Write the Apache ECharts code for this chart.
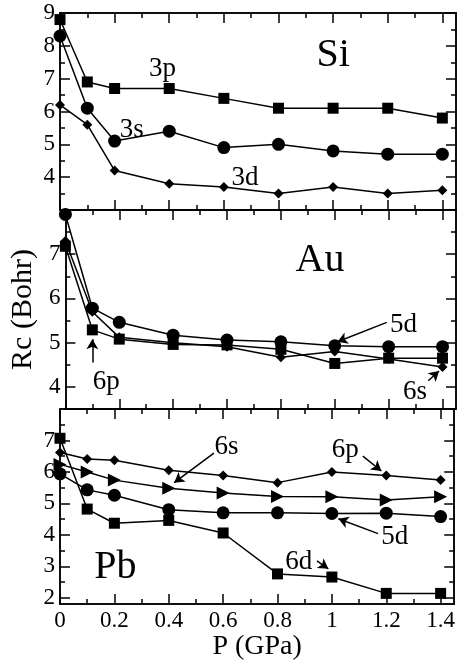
<!DOCTYPE html>
<html>
<head>
<meta charset="utf-8">
<script src="https://cdn.jsdelivr.net/npm/echarts@6/dist/echarts.min.js"></script>
<style>
  html, body { margin: 0; padding: 0; background: #fff; }
  #chart { width: 458px; height: 662px; }
</style>
</head>
<body>
<div id="chart"></div>
<script>
// pressure points (GPa)
const pressure = [0, 0.1, 0.2, 0.4, 0.6, 0.8, 1.0, 1.2, 1.4]

// Si
const si3p = [8.8, 6.9, 6.7, 6.7, 6.4, 6.1, 6.1, 6.1, 5.8]
const si3s = [8.3, 6.1, 5.1, 5.4, 4.9, 5.0, 4.8, 4.7, 4.7]
const si3d = [6.2, 5.6, 4.2, 3.8, 3.7, 3.5, 3.7, 3.5, 3.6]

// Au
const au5d = [7.9, 5.78, 5.46, 5.17, 5.06, 5.02, 4.93, 4.91, 4.91]
const au6p = [7.18, 5.29, 5.08, 4.96, 4.95, 4.85, 4.53, 4.65, 4.65]
const au6s = [7.3, 5.7, 5.12, 5.0, 4.91, 4.67, 4.8, 4.63, 4.45]

// Pb
const pb6p = [6.62, 6.41, 6.37, 6.05, 5.89, 5.66, 6.0, 5.89, 5.74]
const pb6s = [6.24, 6.0, 5.74, 5.48, 5.33, 5.22, 5.21, 5.11, 5.21]
const pb5d = [5.94, 5.43, 5.26, 4.8, 4.7, 4.7, 4.68, 4.69, 4.58]
const pb6d = [7.07, 4.82, 4.37, 4.46, 4.06, 2.76, 2.66, 2.14, 2.14]

// ticks
const xMajor = [0, 0.2, 0.4, 0.6, 0.8, 1, 1.2, 1.4]
const xMinor = [0.1, 0.3, 0.5, 0.7, 0.9, 1.1, 1.3]
const siTicks = [4, 5, 6, 7, 8, 9]
const siMinor = [3.5, 4.5, 5.5, 6.5, 7.5, 8.5]
const auTicks = [4, 5, 6, 7]
const auMinor = [4.5, 5.5, 6.5, 7.5]
const pbTicks = [2, 3, 4, 5, 6, 7]
const pbMinor = [2.5, 3.5, 4.5, 5.5, 6.5, 7.5]

const FONT = 'Liberation Serif'
const black = '#000'

const panels = [
  { top: 13, height: 197, min: 3, max: 9, major: siTicks, minor: siMinor },
  { top: 210, height: 199, min: 3.5, max: 8, major: auTicks, minor: auMinor, yName: 'Rc (Bohr)' },
  { top: 409, height: 196, min: 1.8, max: 8, major: pbTicks, minor: pbMinor, xName: 'P (GPa)' }
]

const grid = []
const xAxis = []
const yAxis = []

function axisBase(gi, len, ticks, position, labels, extra) {
  return Object.assign({
    gridIndex: gi,
    type: 'value',
    position: position,
    axisLine: { show: true, onZero: false, lineStyle: { color: black, width: 1.5 } },
    axisTick: { show: true, inside: true, length: len, customValues: ticks, lineStyle: { color: black, width: 1.5 } },
    axisLabel: labels
      ? { show: true, customValues: labels, color: black, fontFamily: FONT, fontSize: 23, margin: 5 }
      : { show: false },
    splitLine: { show: false }
  }, extra)
}

panels.forEach((p, gi) => {
  grid.push({ left: 60, top: p.top, width: 396, height: p.height })
  const xr = { min: 0, max: 1.45 }
  const xName = p.xName ? {
    name: p.xName, nameLocation: 'middle', nameGap: 25,
    nameTextStyle: { color: black, fontFamily: FONT, fontSize: 28 }
  } : {}
  xAxis.push(axisBase(gi, 10, xMajor, 'bottom', gi === 2 ? xMajor : null, Object.assign({}, xr, xName)))
  xAxis.push(axisBase(gi, 5, xMinor, 'bottom', null, xr))
  xAxis.push(axisBase(gi, 10, xMajor, 'top', null, xr))
  xAxis.push(axisBase(gi, 5, xMinor, 'top', null, xr))
  const yr = { min: p.min, max: p.max }
  const yName = p.yName ? {
    name: p.yName, nameLocation: 'middle', nameGap: 24,
    nameTextStyle: { color: black, fontFamily: FONT, fontSize: 30 }
  } : {}
  yAxis.push(axisBase(gi, 10, p.major, 'left', p.major, Object.assign({}, yr, yName)))
  yAxis.push(axisBase(gi, 5, p.minor, 'left', null, yr))
  yAxis.push(axisBase(gi, 10, p.major, 'right', null, yr))
  yAxis.push(axisBase(gi, 5, p.minor, 'right', null, yr))
})

function makeSeries(gi, values, symbol, size, rotate) {
  return {
    type: 'line',
    xAxisIndex: gi * 4,
    yAxisIndex: gi * 4,
    data: pressure.map((x, i) => [x, values[i]]),
    symbol: symbol,
    symbolSize: size,
    symbolRotate: rotate || 0,
    showAllSymbol: true,
    clip: false,
    lineStyle: { color: black, width: 1.5 },
    itemStyle: { color: black },
    emphasis: { disabled: true },
    z: 5
  }
}

// text labels and arrows, in data coordinates
const notes = [
  { gi: 0, text: 'Si', at: [1.0, 7.7], size: 40 },
  { gi: 0, text: '3p', at: [0.375, 7.3], size: 27 },
  { gi: 0, text: '3s', at: [0.263, 5.45], size: 27 },
  { gi: 0, text: '3d', at: [0.677, 3.98], size: 27 },
  { gi: 1, text: 'Au', at: [0.945, 6.85], size: 40 },
  { gi: 1, text: '5d', at: [1.255, 5.4], size: 27 },
  { gi: 1, text: '6p', at: [0.152, 4.12], size: 27 },
  { gi: 1, text: '6s', at: [1.298, 3.88], size: 27 },
  { gi: 2, text: 'Pb', at: [0.204, 2.95], size: 40 },
  { gi: 2, text: '6s', at: [0.612, 6.8], size: 27 },
  { gi: 2, text: '6p', at: [1.049, 6.7], size: 27 },
  { gi: 2, text: '5d', at: [1.231, 3.95], size: 27 },
  { gi: 2, text: '6d', at: [0.878, 3.15], size: 27 }
]
const arrows = [
  { gi: 1, from: [1.193, 5.46], to: [1.01, 5.02] },
  { gi: 1, from: [0.1, 4.55], to: [0.1, 5.08] },
  { gi: 1, from: [1.347, 4.14], to: [1.387, 4.36] },
  { gi: 2, from: [0.566, 6.6], to: [0.42, 5.66] },
  { gi: 2, from: [1.114, 6.5], to: [1.182, 6.03] },
  { gi: 2, from: [1.17, 4.04], to: [1.024, 4.51] },
  { gi: 2, from: [0.945, 3.17], to: [0.987, 2.92] }
]

function noteSeries(gi) {
  return {
    type: 'line',
    xAxisIndex: gi * 4,
    yAxisIndex: gi * 4,
    data: [],
    silent: true,
    markPoint: {
      symbol: 'circle',
      symbolSize: 0,
      silent: true,
      data: notes.filter(n => n.gi === gi).map(n => ({
        coord: n.at,
        label: {
          show: true, position: 'inside', formatter: n.text,
          color: black, fontFamily: FONT, fontSize: n.size
        }
      }))
    },
    markLine: {
      silent: true,
      symbol: ['none', 'arrow'],
      symbolSize: [9, 10],
      label: { show: false },
      lineStyle: { color: black, width: 1.5, type: 'solid' },
      data: arrows.filter(a => a.gi === gi).map(a => [{ coord: a.from }, { coord: a.to }])
    }
  }
}

const series = [
  makeSeries(0, si3p, 'rect', 11),
  makeSeries(0, si3s, 'circle', 13),
  makeSeries(0, si3d, 'diamond', 10),
  makeSeries(1, au5d, 'circle', 13),
  makeSeries(1, au6p, 'rect', 11),
  makeSeries(1, au6s, 'diamond', 10),
  makeSeries(2, pb6p, 'diamond', 10),
  makeSeries(2, pb6s, 'triangle', 13, -90),
  makeSeries(2, pb5d, 'circle', 13),
  makeSeries(2, pb6d, 'rect', 11),
  noteSeries(0),
  noteSeries(1),
  noteSeries(2)
]

const chart = echarts.init(document.getElementById('chart'))
chart.setOption({
  animation: false,
  backgroundColor: '#fff',
  grid: grid,
  xAxis: xAxis,
  yAxis: yAxis,
  series: series
})
</script>
</body>
</html>
